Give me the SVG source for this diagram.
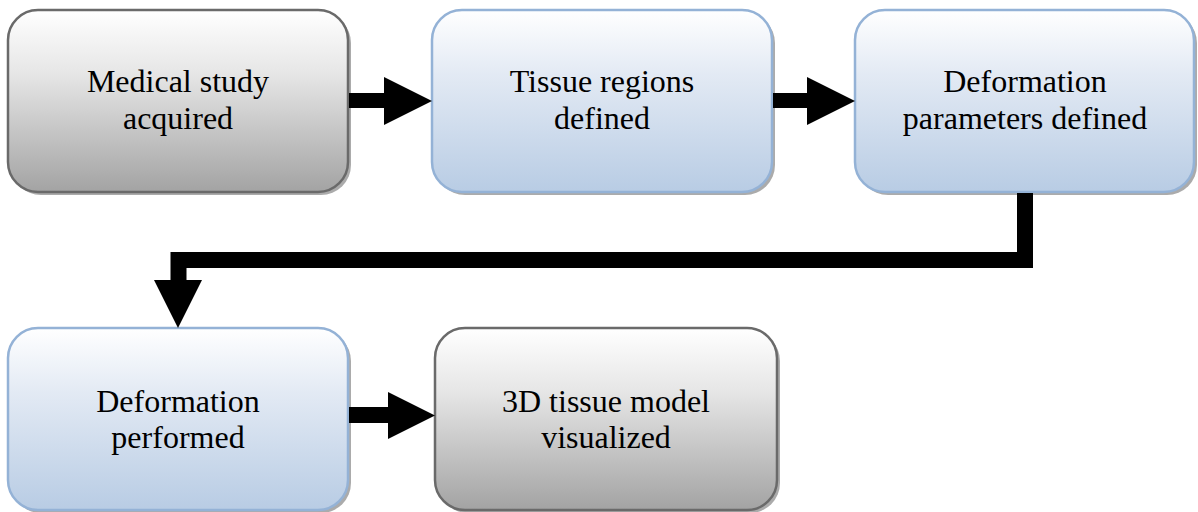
<svg xmlns="http://www.w3.org/2000/svg" width="1198" height="512" viewBox="0 0 1198 512">
<defs>
<linearGradient id="gGray" x1="0" y1="0" x2="0" y2="1">
<stop offset="0" stop-color="#ffffff"/>
<stop offset="0.35" stop-color="#e6e6e6"/>
<stop offset="1" stop-color="#a3a3a3"/>
</linearGradient>
<linearGradient id="gBlue" x1="0" y1="0" x2="0" y2="1">
<stop offset="0" stop-color="#ffffff"/>
<stop offset="0.35" stop-color="#e3eaf4"/>
<stop offset="1" stop-color="#b8cce4"/>
</linearGradient>
<style>
.shadow{fill:#000;fill-opacity:0.33}
.gray{fill:url(#gGray);stroke:#6a6a6a;stroke-width:2.5}
.blue{fill:url(#gBlue);stroke:#94b2d6;stroke-width:2.5}
.lbl{font-family:"Liberation Serif","Times New Roman",serif;font-size:32px;fill:#000;text-anchor:middle}
.arr{fill:#000}
</style>
</defs>
<rect width="1198" height="512" fill="#ffffff"/>
<g id="n1">
<rect class="shadow" x="11" y="13" width="340" height="182" rx="30"/>
<rect class="gray" x="8" y="10" width="340" height="182" rx="30"/>
<text class="lbl" x="178" y="92">Medical study</text>
<text class="lbl" x="178" y="129">acquired</text>
</g>
<g id="n2">
<rect class="shadow" x="435" y="13" width="340" height="182" rx="30"/>
<rect class="blue" x="432" y="10" width="340" height="182" rx="30"/>
<text class="lbl" x="602" y="92">Tissue regions</text>
<text class="lbl" x="602" y="129">defined</text>
</g>
<g id="n3">
<rect class="shadow" x="858" y="13" width="339" height="182" rx="30"/>
<rect class="blue" x="855" y="10" width="339" height="182" rx="30"/>
<text class="lbl" x="1025" y="92">Deformation</text>
<text class="lbl" x="1025" y="129">parameters defined</text>
</g>
<g id="n4">
<rect class="shadow" x="11" y="331" width="340" height="182" rx="30"/>
<rect class="blue" x="8" y="328" width="340" height="182" rx="30"/>
<text class="lbl" x="178" y="412">Deformation</text>
<text class="lbl" x="178" y="448">performed</text>
</g>
<g id="n5">
<rect class="shadow" x="438" y="331" width="342" height="182" rx="30"/>
<rect class="gray" x="435" y="328" width="342" height="182" rx="30"/>
<text class="lbl" x="606" y="412">3D tissue model</text>
<text class="lbl" x="606" y="448">visualized</text>
</g>
<g id="connectors">
<polygon class="arr" points="349,93 384,93 384,77 432,101 384,125 384,108 349,108"/>
<polygon class="arr" points="773,93 807,93 807,77 855,101 807,125 807,108 773,108"/>
<polygon class="arr" points="1017,193 1033,193 1033,268 186.5,268 186.5,280 202,280 178,328 154,280 170.5,280 170.5,252 1017,252"/>
<polygon class="arr" points="349,407 388,407 388,392 435,415.5 388,439 388,423 349,423"/>
</g>
</svg>
